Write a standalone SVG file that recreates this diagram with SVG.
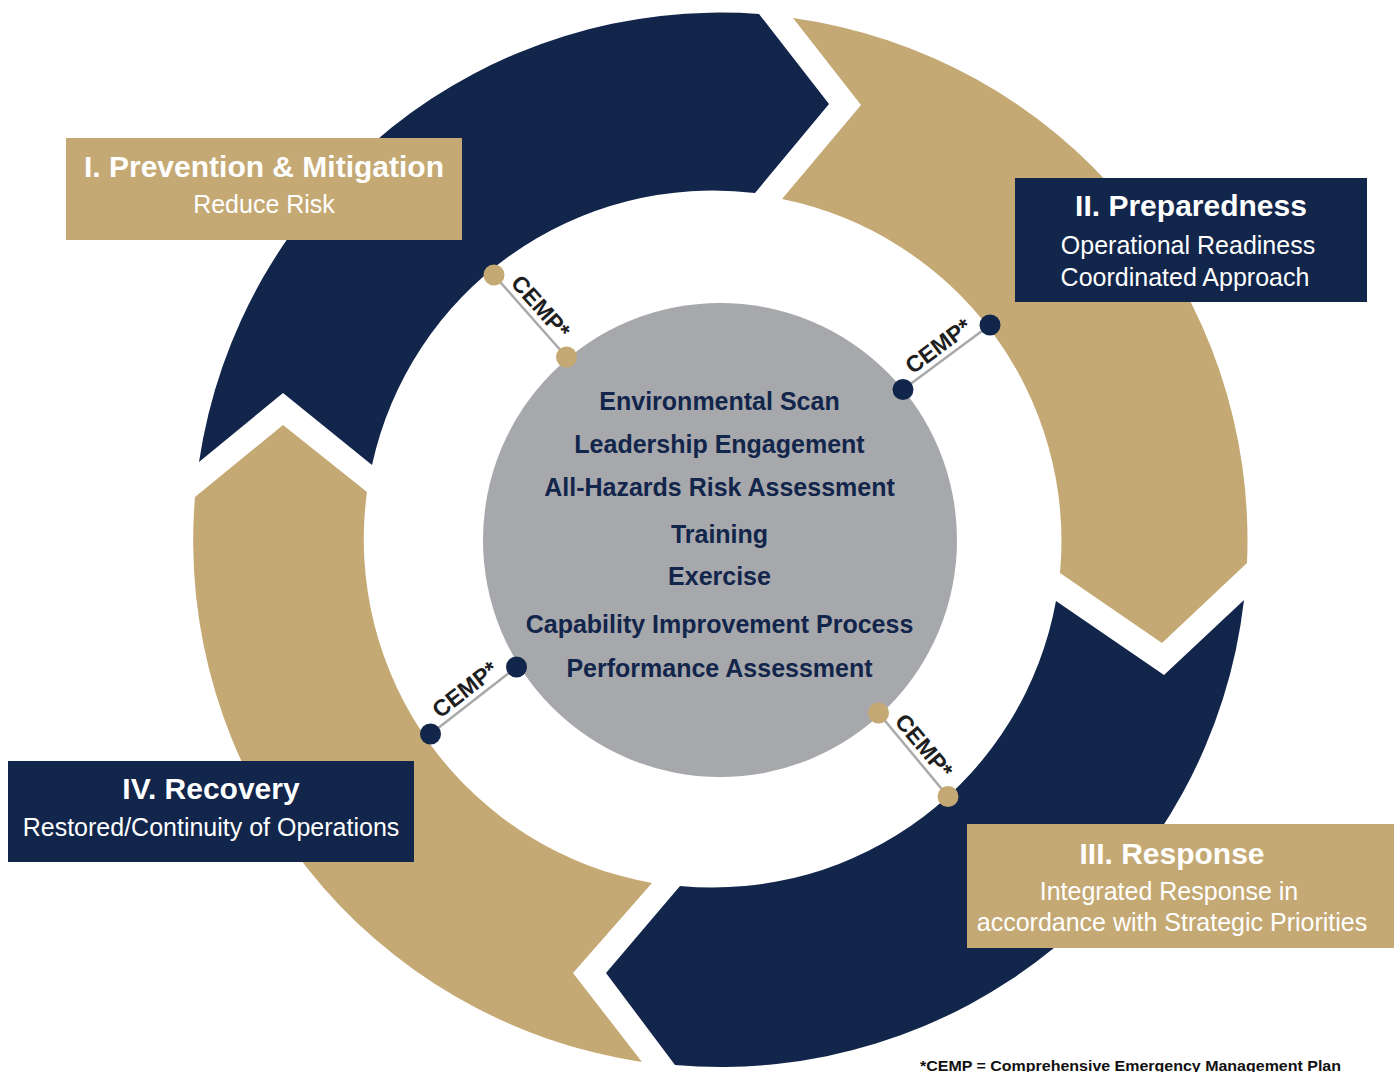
<svg xmlns="http://www.w3.org/2000/svg" width="1394" height="1072" viewBox="0 0 1394 1072">
  <style>
    .navy { fill: #12254b; }
    .tan { fill: #c5a974; }
    .core { fill: #a7a8ab; }
    .title { font-family: "Liberation Sans", Arial, sans-serif; font-weight: bold; font-size: 30px; fill: #ffffff; text-anchor: middle; }
    .sub { font-family: "Liberation Sans", Arial, sans-serif; font-size: 25px; fill: #ffffff; text-anchor: middle; }
    .item { font-family: "Liberation Sans", Arial, sans-serif; font-weight: bold; font-size: 25px; fill: #12254b; text-anchor: middle; }
    .link { stroke: #a9a9a9; stroke-width: 2.5; fill: none; }
    .cemp { font-family: "Liberation Sans", Arial, sans-serif; font-weight: bold; font-size: 23px; fill: #1e1e1e; text-anchor: middle; }
    .note { font-family: "Liberation Sans", Arial, sans-serif; font-weight: bold; font-size: 15px; fill: #111111; }
  </style>
  <rect width="1394" height="1072" fill="#ffffff"/>

  <!-- Phase I: top-left arc segment pointing into phase II -->
  <g id="phase-1-prevention">
    <path class="navy" d="M199,462 A527,527 0 0 1 759,14 L829,104 L755,193 A349,349 0 0 0 372,465 L283,393 Z"/>
    <rect class="tan" x="66" y="138" width="396" height="102"/>
    <text class="title" x="264" y="177">I. Prevention &amp; Mitigation</text>
    <text class="sub" x="264" y="213">Reduce Risk</text>
  </g>

  <!-- Phase II: right arc segment pointing into phase III -->
  <g id="phase-2-preparedness">
    <path class="tan" d="M793,18 A527,527 0 0 1 1247,563 L1162,643 L1060,573 A349,349 0 0 0 782,199 L861,105 Z"/>
    <rect class="navy" x="1015" y="178" width="352" height="124"/>
    <text class="title" x="1191" y="216">II. Preparedness</text>
    <text class="sub" x="1188" y="254">Operational Readiness</text>
    <text class="sub" x="1185" y="286">Coordinated Approach</text>
  </g>

  <!-- Phase III: bottom arc segment pointing into phase IV -->
  <g id="phase-3-response">
    <path class="navy" d="M1244,600 A527,527 0 0 1 675,1065 L606,973 L680,886 A349,349 0 0 0 1056,601 L1164,675 Z"/>
    <rect class="tan" x="967" y="824" width="427" height="124"/>
    <text class="title" x="1172" y="864">III. Response</text>
    <text class="sub" x="1169" y="900">Integrated Response in</text>
    <text class="sub" x="1172" y="931">accordance with Strategic Priorities</text>
  </g>

  <!-- Phase IV: left arc segment pointing back into phase I -->
  <g id="phase-4-recovery">
    <path class="tan" d="M642,1062 A527,527 0 0 1 195,497 L283,425 L367,492 A349,349 0 0 0 652,883 L573,973 Z"/>
    <rect class="navy" x="8" y="761" width="406" height="101"/>
    <text class="title" x="211" y="799">IV. Recovery</text>
    <text class="sub" x="211" y="836">Restored/Continuity of Operations</text>
  </g>

  <!-- Core activities -->
  <g id="core-activities">
    <circle class="core" cx="720" cy="540" r="237"/>
    <text class="item" x="719.5" y="410">Environmental Scan</text>
    <text class="item" x="719.5" y="453">Leadership Engagement</text>
    <text class="item" x="719.5" y="496">All-Hazards Risk Assessment</text>
    <text class="item" x="719.5" y="543">Training</text>
    <text class="item" x="719.5" y="585">Exercise</text>
    <text class="item" x="719.5" y="633">Capability Improvement Process</text>
    <text class="item" x="719.5" y="677">Performance Assessment</text>
  </g>

  <!-- CEMP links between the core and each phase -->
  <g id="connectors">
    <g id="cemp-1">
      <line class="link" x1="494" y1="275" x2="566.5" y2="357"/>
      <circle class="tan" cx="494" cy="275" r="10.5"/>
      <circle class="tan" cx="566.5" cy="357" r="10.5"/>
      <text class="cemp" transform="translate(530.2,316) rotate(48.5)" x="0" y="-6">CEMP*</text>
    </g>
    <g id="cemp-2">
      <line class="link" x1="903" y1="389.5" x2="990" y2="325"/>
      <circle class="navy" cx="990" cy="325" r="10.5"/>
      <circle class="navy" cx="903" cy="389.5" r="10.5"/>
      <text class="cemp" transform="translate(946.5,357.2) rotate(-36.6)" x="0" y="-6">CEMP*</text>
    </g>
    <g id="cemp-3">
      <line class="link" x1="430.5" y1="734" x2="516.5" y2="667"/>
      <circle class="navy" cx="516.5" cy="667" r="10.5"/>
      <circle class="navy" cx="430.5" cy="734" r="10.5"/>
      <text class="cemp" transform="translate(473.5,700.5) rotate(-37.9)" x="0" y="-6">CEMP*</text>
    </g>
    <g id="cemp-4">
      <line class="link" x1="878.5" y1="713" x2="948" y2="796.5"/>
      <circle class="tan" cx="878.5" cy="713" r="10.5"/>
      <circle class="tan" cx="948" cy="796.5" r="10.5"/>
      <text class="cemp" transform="translate(913.2,754.8) rotate(50.2)" x="0" y="-6">CEMP*</text>
    </g>
  </g>

  <text class="note" x="920" y="1071" textLength="421" lengthAdjust="spacingAndGlyphs">*CEMP = Comprehensive Emergency Management Plan</text>
</svg>
